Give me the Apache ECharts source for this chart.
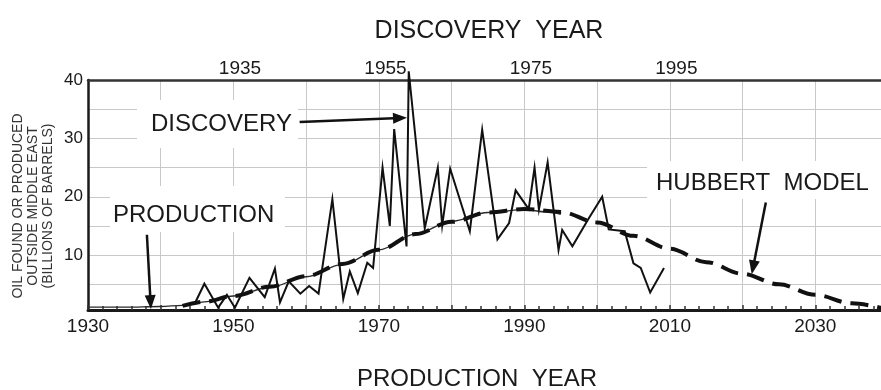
<!DOCTYPE html>
<html>
<head>
<meta charset="utf-8">
<title>Oil discovery and production outside the Middle East</title>
<script src="https://cdn.jsdelivr.net/npm/echarts@6/dist/echarts.min.js"></script>
<style>
  html, body { margin: 0; padding: 0; background: #ffffff; }
  #chart { width: 881px; height: 390px; }
</style>
</head>
<body>
<div id="chart"></div>
<script>
// Annual production outside the Middle East (billions of barrels), by production year
const productionYears  = [1930, 1935, 1940, 1943, 1946, 1950, 1955, 1960, 1965, 1970, 1975, 1980, 1985, 1990, 1993, 1995];
const productionValues = [1.1, 1.1, 1.2, 1.4, 2.0, 3.0, 4.5, 6.3, 8.4, 10.9, 13.6, 15.8, 17.3, 17.8, 17.4, 17.0];

// Hubbert model fit, by production year
const hubbertYears  = [1943, 1946, 1950, 1955, 1960, 1965, 1970, 1975, 1980, 1985, 1990, 1995, 2000, 2005, 2010, 2015, 2020, 2025, 2030, 2035, 2040];
const hubbertValues = [1.3, 2.0, 3.0, 4.6, 6.4, 8.5, 10.9, 13.6, 15.7, 17.3, 17.9, 17.4, 15.6, 13.3, 11.1, 8.8, 6.8, 5.0, 3.2, 1.75, 0.7];

// Oil found, by discovery year (top axis)
const discoveryYears  = [1928.7, 1930.1, 1932.0, 1933.2, 1934.3, 1936.3, 1938.4, 1939.8, 1940.5, 1941.7,
                         1943.3, 1944.5, 1945.8, 1947.7, 1949.2, 1950.1, 1951.2, 1952.5, 1953.3, 1954.6,
                         1955.6, 1956.2, 1957.9, 1958.2, 1960.4, 1962.2, 1962.8, 1963.9, 1966.6, 1968.3,
                         1970.4, 1972.0, 1972.9, 1974.7, 1975.5, 1976.1, 1977.3, 1978.8, 1979.3, 1980.7,
                         1982.9, 1984.8, 1985.7, 1987.9, 1989.1, 1990.1, 1991.4, 1993.3];
const discoveryValues = [1.5, 5.1, 1.0, 3.2, 1.0, 6.1, 2.8, 7.7, 1.9, 5.5,
                         3.4, 4.7, 3.4, 19.6, 2.5, 7.2, 3.5, 8.7, 7.8, 25.0,
                         15.0, 31.6, 11.5, 41.5, 14.6, 25.0, 15.1, 24.8, 14.1, 31.5,
                         12.7, 15.5, 21.1, 17.9, 25.0, 17.8, 25.9, 10.9, 14.3, 11.5,
                         16.2, 20.0, 14.4, 14.1, 8.6, 7.8, 3.6, 7.8];

// Axis tick labels
const productionTickLabels = [1930, 1950, 1970, 1990, 2010, 2030];
const discoveryTickLabels  = [1935, 1955, 1975, 1995];
const valueTickLabels      = [10, 20, 30, 40];
const valueGridLines       = [5, 10, 15, 20, 25, 30, 35, 40];

// The discovery scale runs this many years behind the production scale
const DISCOVERY_LAG = 15.9;
const PROD_MIN = 1930, PROD_MAX = 2040;

// Annotation arrows in production-year / value units: [from, to]
const discoveryArrow  = [[1959.1, 32.8], [1972.9, 33.5]];
const productionArrow = [[1938.1, 13.5], [1938.6, 1.95]];
const hubbertArrow    = [[2023.2, 19.0], [2021.45, 7.9]];

const FONT = '"Liberation Sans", Arial, Helvetica, sans-serif';
const INK = '#1a1a1a';

const zip = (xs, ys) => xs.map((x, i) => [x, ys[i]]);
const plain = (v) => String(v);
const arrow = (pair) => [
  { coord: pair[0], symbol: 'none' },
  { coord: pair[1], symbol: 'triangle' }
];

const chart = echarts.init(document.getElementById('chart'), null, { renderer: 'canvas' });

chart.setOption({
  backgroundColor: '#ffffff',
  animation: false,
  grid: { left: 88, right: -7, top: 80, bottom: 80, containLabel: false, outerBoundsMode: 'none' },
  xAxis: [
    {
      type: 'value',
      position: 'bottom',
      min: PROD_MIN,
      max: PROD_MAX,
      interval: 10,
      axisLine: { show: true, onZero: false, lineStyle: { color: INK, width: 3 } },
      axisTick: { show: true, inside: true, length: 5, lineStyle: { color: '#333', width: 1.5 } },
      minorTick: { show: true, splitNumber: 5, length: 4, lineStyle: { color: '#333', width: 1.5 } },
      axisLabel: {
        customValues: productionTickLabels,
        formatter: plain,
        color: INK, fontSize: 19, fontFamily: FONT, margin: 7
      },
      splitLine: { show: true, lineStyle: { color: '#c8c8c8', width: 1 } }
    },
    {
      type: 'value',
      position: 'top',
      min: PROD_MIN - DISCOVERY_LAG,
      max: PROD_MAX - DISCOVERY_LAG,
      axisLine: { show: true, onZero: false, lineStyle: { color: '#333', width: 2.5 } },
      axisTick: { show: false },
      axisLabel: {
        customValues: discoveryTickLabels,
        formatter: plain,
        color: INK, fontSize: 19, fontFamily: FONT, margin: 2
      },
      splitLine: { show: false }
    }
  ],
  yAxis: {
    type: 'value',
    min: 0.6,
    max: 40,
    axisLine: { show: true, onZero: false, lineStyle: { color: INK, width: 2.5 } },
    axisTick: { show: false, customValues: valueGridLines },
    axisLabel: {
      customValues: valueTickLabels,
      formatter: plain,
      color: INK, fontSize: 17, fontFamily: FONT, margin: 5
    },
    splitLine: { show: true, lineStyle: { color: '#c8c8c8', width: 1 } }
  },
  series: [
    {
      name: 'Production',
      type: 'line',
      xAxisIndex: 0,
      data: zip(productionYears, productionValues),
      smooth: 0.35,
      smoothMonotone: 'x',
      symbol: 'none',
      lineStyle: { color: '#2a2a2a', width: 1.3 },
      z: 3,
      markLine: {
        silent: true,
        animation: false,
        symbolSize: [11, 14],
        label: { show: false },
        lineStyle: { color: '#111', width: 2.5, type: 'solid' },
        data: [arrow(discoveryArrow), arrow(productionArrow), arrow(hubbertArrow)]
      }
    },
    {
      name: 'Hubbert model',
      type: 'line',
      xAxisIndex: 0,
      data: zip(hubbertYears, hubbertValues),
      smooth: 0.35,
      smoothMonotone: 'x',
      symbol: 'none',
      lineStyle: { color: '#111', width: 4, type: [18, 9] },
      z: 4
    },
    {
      name: 'Discovery',
      type: 'line',
      xAxisIndex: 1,
      data: zip(discoveryYears, discoveryValues),
      symbol: 'none',
      clip: false,
      lineStyle: { color: '#111', width: 2, join: 'miter' },
      z: 5
    }
  ],
  graphic: [
    // white boxes behind the annotation words
    { type: 'rect', z: 1, shape: { x: 137, y: 100, width: 161, height: 48 }, style: { fill: '#ffffff' } },
    { type: 'rect', z: 1, shape: { x: 110, y: 186, width: 175, height: 46 }, style: { fill: '#ffffff' } },
    { type: 'rect', z: 1, shape: { x: 647, y: 161, width: 240, height: 38 }, style: { fill: '#ffffff' } },
    {
      type: 'text', z: 10, x: 489, y: 31,
      style: { text: 'DISCOVERY  YEAR', fill: INK, font: '25px ' + FONT, textAlign: 'center', textVerticalAlign: 'middle' }
    },
    {
      type: 'text', z: 10, x: 477, y: 379,
      style: { text: 'PRODUCTION  YEAR', fill: INK, font: '24px ' + FONT, textAlign: 'center', textVerticalAlign: 'middle' }
    },
    {
      type: 'text', z: 10, x: 151, y: 124,
      style: { text: 'DISCOVERY', fill: INK, font: '24px ' + FONT, textAlign: 'left', textVerticalAlign: 'middle' }
    },
    {
      type: 'text', z: 10, x: 113, y: 215,
      style: { text: 'PRODUCTION', fill: INK, font: '24px ' + FONT, textAlign: 'left', textVerticalAlign: 'middle' }
    },
    {
      type: 'text', z: 10, x: 656, y: 183,
      style: { text: 'HUBBERT  MODEL', fill: INK, font: '24px ' + FONT, textAlign: 'left', textVerticalAlign: 'middle' }
    },
    {
      type: 'text', z: 10, x: 33, y: 206, rotation: Math.PI / 2,
      style: {
        text: 'OIL FOUND OR PRODUCED\nOUTSIDE MIDDLE EAST\n(BILLIONS OF BARRELS)',
        fill: '#333', font: '14px ' + FONT, lineHeight: 15,
        textAlign: 'center', textVerticalAlign: 'middle'
      }
    }
  ]
});
</script>
</body>
</html>
